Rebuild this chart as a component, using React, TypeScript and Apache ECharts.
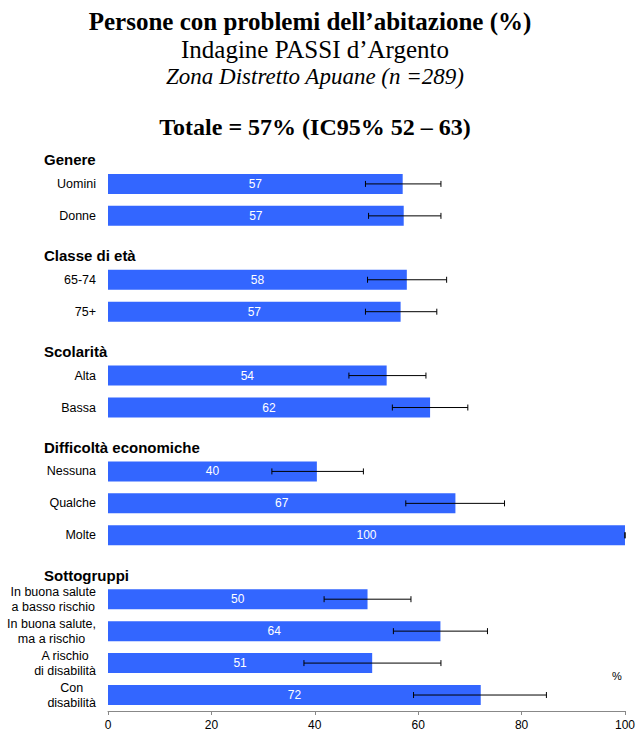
import React, { useEffect, useRef } from "react";
import * as echarts from "echarts";

const categories = [
  "Genere",
  "Uomini",
  "Donne",
  "Classe di età",
  "65-74",
  "75+",
  "Scolarità",
  "Alta",
  "Bassa",
  "Difficoltà economiche",
  "Nessuna",
  "Qualche",
  "Molte",
  "Sottogruppi",
  "In buona salute\na basso rischio",
  "In buona salute,\nma a rischio",
  "A rischio\ndi disabilità",
  "Con\ndisabilità",
];
const headers = ["Genere", "Classe di età", "Scolarità", "Difficoltà economiche", "Sottogruppi"];
const values = [null, 57.0, 57.2, null, 57.8, 56.6, null, 53.9, 62.3, null, 40.4, 67.2, 100, null, 50.2, 64.3, 51.1, 72.1];
const lows = [null, 49.8, 50.4, null, 50.2, 49.8, null, 46.6, 55.0, null, 31.7, 57.6, 100, null, 41.8, 55.2, 37.9, 59.1];
const highs = [null, 64.4, 64.4, null, 65.5, 63.6, null, 61.5, 69.6, null, 49.4, 76.7, 100, null, 58.6, 73.4, 64.4, 84.8];
const xTicks = [0, 20, 40, 60, 80, 100];

const titleMain = "Persone con problemi dell\u2019abitazione (%)";
const titleSub = "Indagine PASSI d\u2019Argento";
const titleZone = "Zona Distretto Apuane (n =289)";
const titleTot = "Totale = 57% (IC95% 52 \u2013 63)";

export default function App() {
  const ref = useRef<HTMLDivElement>(null);
  useEffect(() => {
    if (!ref.current) return;
    const chart = echarts.init(ref.current, null, { renderer: "svg" });
    const errData: any[] = [];
    categories.forEach((c, i) => {
      if (lows[i] != null) errData.push([i, lows[i], highs[i]]);
    });
    const serif = "'Liberation Serif', 'Times New Roman', serif";
    const sans = "'Liberation Sans', Arial, sans-serif";
    chart.setOption({
      animation: false,
      backgroundColor: "#ffffff",
      textStyle: { fontFamily: sans },
      grid: { left: 108, right: 12, top: 136, bottom: 22, containLabel: false },
      xAxis: {
        type: "value",
        min: xTicks[0],
        max: xTicks[xTicks.length - 1],
        interval: 20,
        axisLine: { show: true, lineStyle: { color: "#888888", width: 1 } },
        axisTick: { show: true, length: 4, lineStyle: { color: "#888888" } },
        axisLabel: { color: "#000", fontSize: 12, fontFamily: sans, margin: 8 },
        splitLine: { show: false },
      },
      yAxis: {
        type: "category",
        inverse: true,
        data: categories,
        axisLine: { show: false },
        axisTick: { show: false },
        splitLine: { show: false },
        axisLabel: {
          color: "#000",
          fontSize: 12.5,
          fontFamily: sans,
          margin: 12,
          interval: 0,
          formatter: (v: string) => {
            if (headers.includes(v)) return `{h|${v}}`;
            if (v.includes("\n")) return v.split("\n").map((l) => `{c|${l}}`).join("\n");
            return v;
          },
          rich: {
            h: {
              fontWeight: "bold",
              fontSize: 15,
              fontFamily: sans,
              color: "#000",
              width: 52,
              align: "left",
              padding: [16, 0, 0, 0],
            },
            c: {
              fontSize: 12.5,
              fontFamily: sans,
              color: "#000",
              align: "center",
              lineHeight: 15,
            },
          },
        },
      },
      series: [
        {
          type: "bar",
          data: values,
          barWidth: 20,
          itemStyle: { color: "#3366FF" },
          label: {
            show: true,
            position: "inside",
            color: "#ffffff",
            fontSize: 12,
            fontFamily: sans,
            formatter: (p: any) => (p.value == null ? "" : String(Math.round(p.value))),
          },
          z: 2,
        },
        {
          type: "custom",
          data: errData,
          encode: { x: [1, 2], y: 0 },
          z: 3,
          renderItem: (params: any, api: any) => {
            const idx = api.value(0);
            const lo = api.coord([api.value(1), idx]);
            const hi = api.coord([api.value(2), idx]);
            const cap = 3;
            const st = { stroke: "#000", lineWidth: 1 };
            return {
              type: "group",
              children: [
                { type: "line", shape: { x1: lo[0], y1: lo[1], x2: hi[0], y2: hi[1] }, style: st },
                { type: "line", shape: { x1: lo[0], y1: lo[1] - cap, x2: lo[0], y2: lo[1] + cap }, style: st },
                { type: "line", shape: { x1: hi[0], y1: hi[1] - cap, x2: hi[0], y2: hi[1] + cap }, style: st },
              ],
            };
          },
        },
      ],
      graphic: [
        {
          type: "text",
          x: 310,
          y: 21,
          style: { text: titleMain, font: `bold 25px ${serif}`, fill: "#000", align: "center", verticalAlign: "middle" },
        },
        {
          type: "text",
          x: 315,
          y: 49,
          style: { text: titleSub, font: `25px ${serif}`, fill: "#000", align: "center", verticalAlign: "middle" },
        },
        {
          type: "text",
          x: 315,
          y: 76,
          style: { text: titleZone, font: `italic 23px ${serif}`, fill: "#000", align: "center", verticalAlign: "middle" },
        },
        {
          type: "text",
          x: 315,
          y: 127,
          style: { text: titleTot, font: `bold 24px ${serif}`, fill: "#000", align: "center", verticalAlign: "middle" },
        },
        {
          type: "text",
          x: 617,
          y: 676,
          style: { text: "%", font: `11px ${sans}`, fill: "#000", align: "center", verticalAlign: "middle" },
        },
      ],
    });
    return () => chart.dispose();
  }, []);
  return (
    <div
      ref={ref}
      style={{ position: "fixed", left: 0, top: 0, width: 638, height: 733, background: "#fff" }}
    />
  );
}
